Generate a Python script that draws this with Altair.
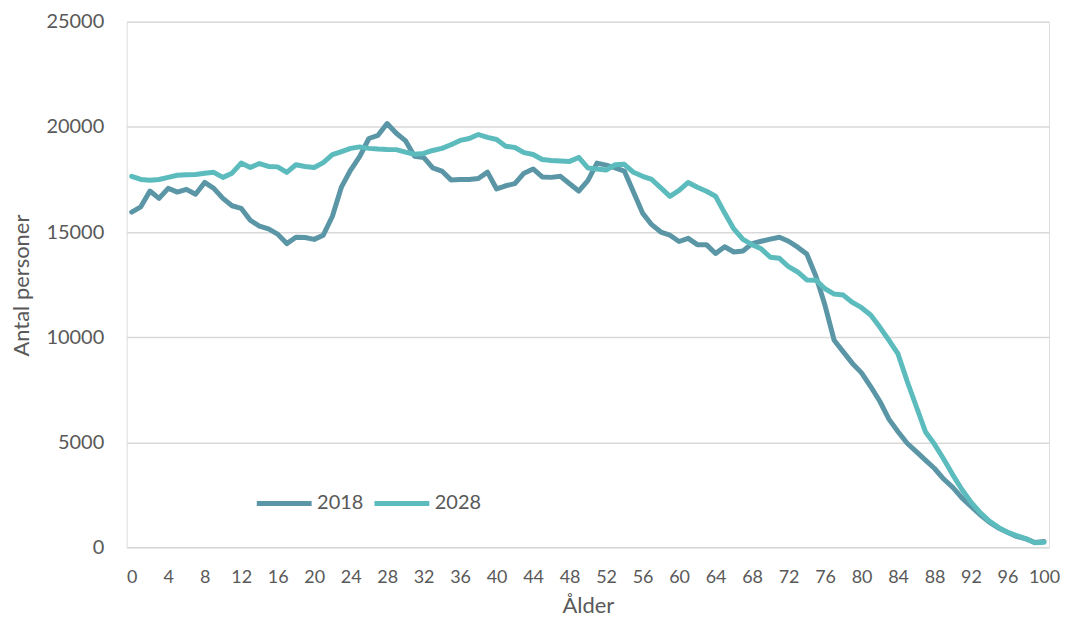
import altair as alt
import pandas as pd

ages = list(range(0, 101))

v2018 = [15950, 16200, 16950, 16600, 17080, 16900, 17030, 16800, 17360, 17080,
         16600, 16250, 16130, 15560, 15280, 15150, 14900, 14450, 14750, 14740,
         14650, 14850, 15750, 17150, 17950, 18600, 19450, 19600, 20160, 19700,
         19350, 18600, 18550, 18050, 17900, 17480, 17500, 17500, 17550, 17850,
         17050, 17200, 17300, 17800, 18000, 17620, 17600, 17650, 17300, 16950,
         17450, 18280, 18180, 18050, 17900, 16900, 15900, 15350, 15000, 14850,
         14550, 14700, 14400, 14400, 13980, 14300, 14050, 14100, 14450, 14560,
         14660, 14750, 14560, 14280, 13950, 12900, 11500, 9850, 9300, 8750,
         8300, 7650, 6950, 6100, 5500, 4950, 4550, 4150, 3750, 3250,
         2850, 2350, 1950, 1550, 1200, 920, 720, 520, 400, 230,
         280]

v2028 = [17650, 17500, 17460, 17500, 17600, 17700, 17720, 17740, 17800, 17840,
         17600, 17800, 18280, 18070, 18260, 18120, 18100, 17840, 18200, 18120,
         18070, 18300, 18680, 18830, 18980, 19050, 18980, 18950, 18930, 18920,
         18800, 18700, 18740, 18880, 18980, 19150, 19360, 19450, 19640, 19500,
         19400, 19080, 19020, 18780, 18690, 18450, 18400, 18380, 18360, 18550,
         18050, 18000, 17950, 18200, 18220, 17840, 17650, 17500, 17100, 16700,
         16980, 17360, 17130, 16940, 16700, 15900, 15150, 14650, 14400, 14200,
         13800, 13750, 13350, 13100, 12720, 12710, 12300, 12050, 12000, 11650,
         11400, 11050, 10480, 9850, 9200, 7900, 6700, 5500, 4900, 4200,
         3450, 2750, 2150, 1650, 1250, 950, 710, 560, 420, 220,
         240]

series_names = ["2018", "2028"]
series_colors = ["#5b96a6", "#5cbbbd"]
x_ticks = list(range(0, 101, 4))
y_ticks = [0, 5000, 10000, 15000, 20000, 25000]

rows = []
for name, vals in zip(series_names, [v2018, v2028]):
    for a, v in zip(ages, vals):
        rows.append({"Ålder": a, "Antal": v, "År": name})
df = pd.DataFrame(rows)

FONT = "Lato"
GREY = "#595959"

chart = alt.Chart(df).mark_line(
    strokeWidth=5, strokeCap="round", strokeJoin="round"
).encode(
    x=alt.X("Ålder:Q",
            scale=alt.Scale(domain=[-0.55, 100.55], nice=False, zero=False),
            axis=alt.Axis(values=x_ticks, title="Ålder", grid=False, domain=False,
                          ticks=False, labelPadding=21, labelFontSize=18,
                          labelColor=GREY, labelFont=FONT, labelFlush=False,
                          titleFont=FONT, titleFontSize=22, titleColor=GREY,
                          titleFontWeight="normal", titleBaseline="alphabetic",
                          titleY=65)),
    y=alt.Y("Antal:Q",
            scale=alt.Scale(domain=[0, 25000], nice=False),
            axis=alt.Axis(values=y_ticks, title="Antal personer", grid=True,
                          gridColor="#d9d9d9", gridWidth=1.5, domain=False,
                          ticks=False, labelPadding=23, labelFontSize=20,
                          labelColor=GREY, labelFont=FONT, format="d",
                          titleFont=FONT, titleFontSize=22, titleColor=GREY,
                          titleFontWeight="normal", titleX=-93, titleY=264)),
    color=alt.Color("År:N",
                    scale=alt.Scale(domain=series_names, range=series_colors),
                    legend=alt.Legend(orient="none", legendX=128, legendY=453,
                                      direction="horizontal", title=None,
                                      symbolType="stroke", symbolSize=3025,
                                      symbolStrokeWidth=5, labelFont=FONT,
                                      labelFontSize=20, labelColor=GREY,
                                      labelOffset=3, columnPadding=0,
                                      padding=0)),
).properties(
    width=925, height=527,
    autosize=alt.AutoSizeParams(type="none"),
    padding={"left": 119, "top": 13, "right": 11, "bottom": 70},
).configure_view(stroke=None).configure(background="white")

chart.save("out.html", embed_options={"renderer": "svg", "actions": False})
